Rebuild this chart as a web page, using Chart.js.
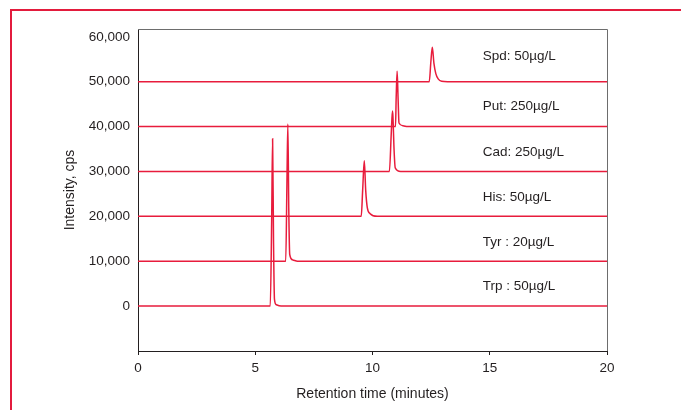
<!DOCTYPE html>
<html>
<head>
<meta charset="utf-8">
<script src="https://cdn.jsdelivr.net/npm/chart.js@4/dist/chart.umd.min.js"></script>
<style>
  html, body { margin: 0; padding: 0; background: #fff; }
  #wrap { position: relative; width: 681px; height: 410px; overflow: hidden; }
  #frame { position: absolute; left: 10px; top: 9px; width: 700px; height: 420px;
           border-left: 2px solid #e31b3d; border-top: 2px solid #e31b3d; box-sizing: border-box; }
  canvas { position: absolute; left: 0; top: 0; }
</style>
</head>
<body>
<div id="wrap">
  <div id="frame"></div>
  <canvas id="c" width="681" height="410"></canvas>
</div>
<script>
// ---- data ----
const compounds = ["Trp", "Tyr", "His", "Cad", "Put", "Spd"];
const labelsText = ["Trp : 50µg/L", "Tyr : 20µg/L", "His: 50µg/L", "Cad: 250µg/L", "Put: 250µg/L", "Spd: 50µg/L"];
const baselines = [0, 10000, 20000, 30000, 40000, 50000];

const trpTime = [0, 5.64, 5.70, 5.74, 5.78, 5.82, 5.90, 6.10, 20];
const trpVal  = [0, 0, 19000, 37300, 14000, 1500, 300, 0, 0];

const tyrTime = [0, 6.30, 6.35, 6.39, 6.43, 6.47, 6.60, 6.80, 20];
const tyrVal  = [0, 0, 17000, 30570, 11500, 1500, 300, 0, 0];

const hisTime = [0, 9.52, 9.58, 9.65, 9.71, 9.78, 9.90, 10.20, 20];
const hisVal  = [0, 0, 5800, 12390, 5800, 1900, 600, 0, 0];

const cadTime = [0, 10.72, 10.80, 10.85, 10.87, 10.92, 10.97, 11.20, 20];
const cadVal  = [0, 0, 8500, 13470, 12400, 4800, 800, 0, 0];

const putTime = [0, 10.98, 11.01, 11.05, 11.09, 11.13, 11.30, 11.50, 20];
const putVal  = [0, 0, 6500, 12320, 6500, 800, 200, 0, 0];

const spdTime = [0, 12.42, 12.49, 12.55, 12.62, 12.70, 12.80, 12.95, 13.20, 20];
const spdVal  = [0, 0, 4500, 7670, 4100, 1800, 650, 100, 0, 0];

const xTicks = [0, 5, 10, 15, 20];
const yTicks = [0, 10000, 20000, 30000, 40000, 50000, 60000];

const labelTime = 14.7;
const labelAbove = [4450, 4270, 4300, 4330, 4580, 5620];

// ---- build ----
const times = [trpTime, tyrTime, hisTime, cadTime, putTime, spdTime];
const vals = [trpVal, tyrVal, hisVal, cadVal, putVal, spdVal];
const RED = 'rgb(232,28,60)';
const INK = '#231f20';
const FONT = "'Liberation Sans Narrow', 'Arial Narrow', 'Liberation Sans', sans-serif";

const datasets = compounds.map((name, i) => ({
  label: name,
  data: times[i].map((t, j) => ({ x: t, y: baselines[i] + vals[i][j] })),
  borderColor: RED,
  borderWidth: 1.5,
  pointRadius: 0,
  fill: false,
  cubicInterpolationMode: 'monotone'
}));

const decor = {
  id: 'decor',
  afterDatasetsDraw(chart) {
    const { ctx, chartArea: a, scales: { x, y } } = chart;
    ctx.save();
    ctx.strokeStyle = '#6d6d6d';
    ctx.lineWidth = 1;
    ctx.beginPath();
    ctx.moveTo(a.left, a.top + 0.5);
    ctx.lineTo(a.right + 0.5, a.top + 0.5);
    ctx.lineTo(a.right + 0.5, a.bottom);
    ctx.stroke();
    ctx.fillStyle = INK;
    ctx.font = '13.5px ' + FONT;
    ctx.textAlign = 'left';
    ctx.textBaseline = 'middle';
    labelsText.forEach((txt, i) => {
      ctx.fillText(txt, x.getPixelForValue(labelTime), y.getPixelForValue(baselines[i] + labelAbove[i]));
    });
    ctx.restore();
  }
};

new Chart(document.getElementById('c'), {
  type: 'line',
  data: { datasets },
  plugins: [decor],
  options: {
    responsive: false,
    animation: false,
    layout: { padding: { left: 59, top: 29, right: 74, bottom: 0 } },
    plugins: { legend: { display: false }, tooltip: { enabled: false } },
    scales: {
      x: {
        type: 'linear',
        min: 0, max: 20,
        afterFit(s) { s.height = 59; },
        afterBuildTicks(s) { s.ticks = xTicks.map(v => ({ value: v })); },
        grid: { display: true, drawOnChartArea: false, drawTicks: true, tickLength: 4, color: INK },
        border: { display: true, color: INK, width: 1 },
        ticks: { color: INK, font: { family: FONT, size: 13.5 }, padding: 5, maxRotation: 0 },
        title: { display: true, text: 'Retention time (minutes)', color: INK,
                 font: { family: FONT, size: 14 }, padding: { top: 4, bottom: 7 } }
      },
      y: {
        type: 'linear',
        min: -10000, max: 61750,
        afterFit(s) { s.width = 79; },
        afterBuildTicks(s) { s.ticks = yTicks.map(v => ({ value: v })); },
        grid: { display: true, drawOnChartArea: false, drawTicks: false },
        border: { display: true, color: INK, width: 1 },
        ticks: { color: INK, font: { family: FONT, size: 13.5 }, padding: 8,
                 callback: v => v.toLocaleString('en-US') },
        title: { display: true, text: 'Intensity, cps', color: INK,
                 font: { family: FONT, size: 14 }, padding: { top: 3, bottom: 4 } }
      }
    }
  }
});
</script>
</body>
</html>
